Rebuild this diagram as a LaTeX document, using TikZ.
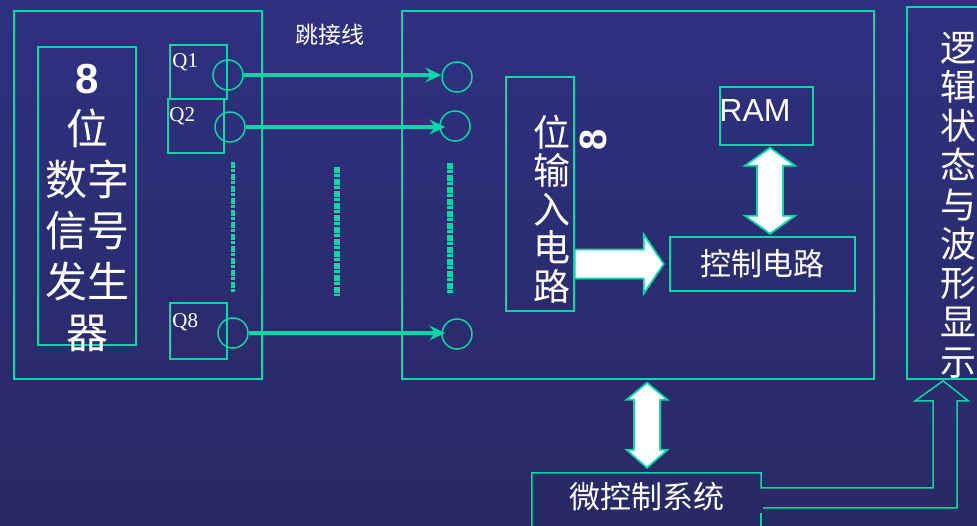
\documentclass[tikz,border=0pt]{standalone}
\usepackage{fontspec}
\setmainfont{Liberation Serif}
\newfontfamily\cjk{Noto Sans CJK SC}
\newfontfamily\arialfont{Liberation Sans}
\usetikzlibrary{arrows.meta,calc}
\definecolor{linecol}{RGB}{10,215,165}
\definecolor{bgtop}{RGB}{46,49,128}
\definecolor{bgbottom}{RGB}{40,41,100}
\tikzset{
    box/.style 2 args={draw=linecol, line width=1.5pt, minimum width=#1, minimum height=#2, inner sep=0pt},
    pin/.style={draw=linecol, line width=1.5pt, circle, minimum size=30pt, inner sep=0pt},
    jumper/.style={draw=linecol, line width=3.5pt, -{Stealth[length=16pt, width=15pt, inset=6pt]}},
    dots/.style={draw=linecol, line width=6pt, dash pattern=on 6pt off 1.5pt on 3pt off 1.5pt},
    wire/.style={draw=linecol, line width=1.5pt},
    bigarrow/.style={draw=linecol, fill=white, line width=1.8pt, line join=miter},
    txt/.style={text=white, inner sep=0pt},
    qtext/.style={text=white, inner sep=0pt, font=\fontsize{21}{21}\selectfont}
}
\begin{document}
\begin{tikzpicture}[x=1pt, y=-1pt]
                \useasboundingbox (0,0) rectangle (977,526);
                \clip (0,0) rectangle (977,526);
                \shade[top color=bgtop, bottom color=bgbottom] (0,0) rectangle (977,526);

                \node[box={248pt}{368pt}] (gen) at (138,195) {};
                \node[box={98pt}{298pt}] (genbox) at (87,196) {};
                \node[txt, font=\cjk\fontsize{42}{51}\selectfont, align=center] (gentext) at (87,208)
                    {{\arialfont\bfseries 8}\\位\\数字\\信号\\发生\\器};

                \node[box={57pt}{54pt}] (q1) at (198.5,72) {};
                \node[box={56pt}{54pt}] (q2) at (196,126) {};
                \node[box={57pt}{56pt}] (q8) at (198.5,331) {};
                \node[qtext, anchor=west] (q1text) at ($(q1.north west)+(3,18)$) {Q1};
                \node[qtext, anchor=west] (q2text) at ($(q2.north west)+(2,18)$) {Q2};
                \node[qtext, anchor=west] (q8text) at ($(q8.north west)+(3,20)$) {Q8};

                \node[pin] (s1) at (228,75) {};
                \node[pin] (s2) at (230,127) {};
                \node[pin] (s8) at (233,333) {};

                \node[box={472pt}{368pt}] (mid) at (638,195) {};
                \node[pin] (t1) at (457,77) {};
                \node[pin] (t2) at (455,126) {};
                \node[pin] (t8) at (457,334) {};

                \draw[jumper] (s1.east) -- (s1.east -| t1.west);
                \draw[jumper] (s2.east) -- ($(s2.east -| t2.west)+(6,0)$);
                \draw[jumper] (s8.east) -- ($(s8.east -| t8.west)+(4,0)$);

                \draw[dots, line width=3.5pt] (233,162) -- (233,294);
                \draw[dots] (337,167) -- (337,296);
                \draw[dots] (450,163) -- (450,293);

                \node[txt, font=\cjk\fontsize{23}{23}\selectfont] (jump) at (330,35) {跳接线};

                \node[box={68pt}{234pt}] (inbox) at (540,194) {};
                \node[txt, font=\cjk\fontsize{37}{38.5}\selectfont, align=center] (intext) at (552,209)
                    {位\\输\\入\\电\\路};
                \node[txt, font=\arialfont\bfseries\fontsize{38}{38}\selectfont, rotate=90] (eight) at (593,140) {8};

                \node[box={93pt}{58pt}] (ram) at (766.5,116) {};
                \node[txt, font=\arialfont\fontsize{32}{32}\selectfont] (ramtext) at (755,110) {RAM};

                \node[box={185pt}{54pt}, text=white, font=\cjk\fontsize{31}{31}\selectfont] (ctrl) at (762.5,264) {控制电路};

                \draw[bigarrow] ($(ram.south)+(3.5,2)$) -- ++(25,18) -- ++(-12,0) -- ++(0,50) -- ++(12,0)
                    -- ++(-25,18) -- ++(-25,-18) -- ++(12,0) -- ++(0,-50) -- ++(-12,0) -- cycle;
                \draw[bigarrow] ($(inbox.east |- ctrl.west)+(0,-14.5)$) -- ++(69,0) -- ++(0,-15) -- ++(20,29.5)
                    -- ++(-20,29.5) -- ++(0,-15) -- ++(-69,0) -- cycle;

                \node[box={93pt}{372pt}] (disp) at (953.5,193) {};
                \node[txt, font=\cjk\fontsize{36}{39.25}\selectfont, align=center] (disptext) at (958,205)
                    {逻\\辑\\状\\态\\与\\波\\形\\显\\示};

                \node[txt, minimum width=229pt, minimum height=48pt, font=\cjk\fontsize{31}{31}\selectfont] (mcu) at (646.5,497) {微控制系统};
                \draw[bigarrow] ($(mcu.north |- mid.south)+(0.5,3)$) -- ++(20.5,17) -- ++(-7.5,0) -- ++(0,50) -- ++(7.5,0)
                    -- ++(-20.5,18) -- ++(-20.5,-18) -- ++(7.5,0) -- ++(0,-50) -- ++(-7.5,0) -- cycle;

                \draw[wire] ($(mcu.south west)+(0,10)$) -- (mcu.north west) -- (mcu.north east) -- ++(0,15)
                    -- ++(172,0) -- ++(0,-87) -- ++(-18,0) -- ++(28,-20) -- ++(25,20) -- ++(-11,0)
                    -- ++(0,107) -- ++(-194,0);
                \draw[wire] ($(mcu.south east)+(0,-8)$) -- ++(0,18);
\end{tikzpicture}
\end{document}
